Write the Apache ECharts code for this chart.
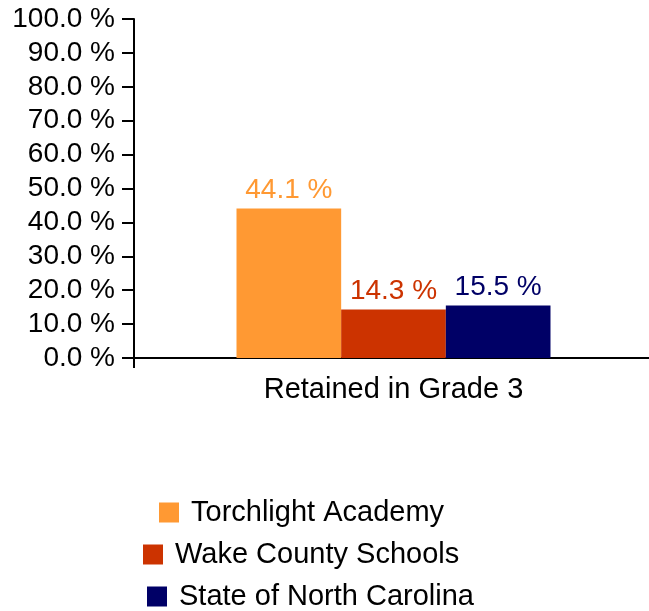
<!DOCTYPE html>
<html>
<head>
<meta charset="utf-8">
<script src="https://cdn.jsdelivr.net/npm/echarts@6/dist/echarts.min.js"></script>
<style>
  html, body { margin: 0; padding: 0; background: #fff; }
  #chart { width: 649px; height: 611px; }
</style>
</head>
<body>
<div id="chart"></div>
<script>
// data
const categories = ["Retained in Grade 3"];
const seriesNames = ["Torchlight Academy", "Wake County Schools", "State of North Carolina"];
const torchlight = [44.1];
const wake = [14.3];
const northCarolina = [15.5];
const colors = ["#FF9933", "#CC3300", "#000066"];

const font = "Liberation Sans, Arial, Helvetica, sans-serif";
const values = [torchlight, wake, northCarolina];

const chart = echarts.init(document.getElementById("chart"));

// one legend per line, each placed like the picture
const legendPos = [
  { left: 159, top: 498 },
  { left: 143, top: 540 },
  { left: 147, top: 582 },
];
const legends = seriesNames.map((name, i) => ({
  data: [name],
  left: legendPos[i].left,
  top: legendPos[i].top,
  padding: 0,
  itemWidth: 20,
  itemHeight: 20,
  icon: "rect",
  selectedMode: false,
  textStyle: {
    fontFamily: font,
    fontSize: 29,
    color: "#000",
    padding: [0, 0, 0, 7],
  },
}));

const series = seriesNames.map((name, i) => ({
  name: name,
  type: "bar",
  data: values[i],
  barGap: "0%",
  barCategoryGap: "39.5%",
  itemStyle: { color: colors[i] },
  label: {
    show: true,
    position: "top",
    distance: 4,
    color: colors[i],
    fontFamily: font,
    fontSize: 28,
    formatter: (p) => p.value.toFixed(1) + " %",
  },
}));

const option = {
  animation: false,
  legend: legends,
  grid: {
    left: 134,
    right: -4,
    top: 19,
    bottom: 253,
    outerBoundsMode: "none",
  },
  xAxis: {
    type: "category",
    data: categories,
    axisLine: { lineStyle: { color: "#000", width: 2 } },
    axisTick: { show: true, length: 10, lineStyle: { color: "#000", width: 2 } },
    axisLabel: {
      color: "#000",
      fontFamily: font,
      fontSize: 29,
      margin: 17,
    },
  },
  yAxis: {
    type: "value",
    min: 0,
    max: 100,
    interval: 10,
    splitLine: { show: false },
    axisLine: { show: true, lineStyle: { color: "#000", width: 2 } },
    axisTick: { show: true, length: 12, lineStyle: { color: "#000", width: 2 } },
    axisLabel: {
      color: "#000",
      fontFamily: font,
      fontSize: 28,
      margin: 19,
      formatter: (v) => v.toFixed(1) + " %",
    },
  },
  series: series,
};

chart.setOption(option);
</script>
</body>
</html>
